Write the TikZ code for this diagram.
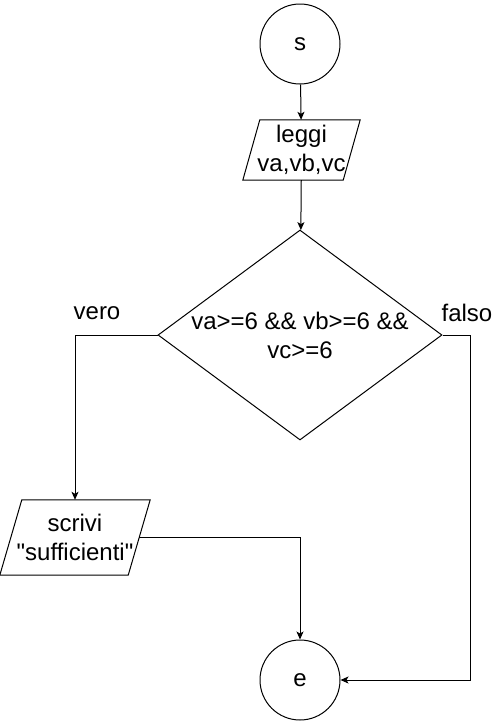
\documentclass[tikz,border=0pt]{standalone}
\usepackage{fontspec}
\setmainfont{Liberation Sans}
\usetikzlibrary{arrows.meta, positioning, shapes.geometric}
\tikzset{
  term/.style={draw, circle, minimum size=80pt, inner sep=0pt, line width=1pt},
  iobox/.style={rectangle, inner sep=0pt, align=center},
  ioline/.style={line width=1pt, line join=miter},
  decbox/.style={draw, diamond, minimum width=284pt, minimum height=210pt,
                 inner sep=0pt, line width=1pt},
  lbl/.style={inner sep=0pt},
  arr/.style={-{Stealth[length=8pt, width=7pt, inset=2pt]}, line width=1pt},
}

\begin{document}
\begin{tikzpicture}[x=1pt, y=-1pt, font=\fontsize{24}{29}\selectfont]
  \useasboundingbox (0,0) rectangle (501,721);

  %% -- nodes --
  \node[term] (s) at (300,44) {s};
  \node[iobox, minimum width=100pt, minimum height=60pt] (leggi) at (301.5,150) {leggi\\va,vb,vc};
  \draw[ioline] ([xshift=8.5pt]leggi.north west) -- ([xshift=8.5pt]leggi.north east)
    -- ([xshift=-8.5pt]leggi.south east) -- ([xshift=-8.5pt]leggi.south west) -- cycle;
  \node[decbox] (cond) at (300,335) {};
  \node[align=center, inner sep=0pt] (condtxt) at (cond) {va>=6 \&\& vb>=6 \&\&\\vc>=6};
  \node[iobox, minimum width=128pt, minimum height=75pt] (scrivi) at (75,537.5)
    {scrivi\\\textquotedbl sufficienti\textquotedbl};
  \draw[ioline] ([xshift=11pt]scrivi.north west) -- ([xshift=11pt]scrivi.north east)
    -- ([xshift=-11pt]scrivi.south east) -- ([xshift=-11pt]scrivi.south west) -- cycle;
  \node[term] (e) at (300,680) {e};
  \node[lbl] (vero) at (97,313) {vero};
  \node[lbl] (falso) at (467,313) {falso};
  \coordinate (rturn) at (470,335);

  %% -- connectors --
  \draw[arr] (s) -- (leggi);
  \draw[arr] (leggi) -- (cond);
  \draw[arr] (cond.west) -| (scrivi.north);
  \draw[arr] (scrivi.east) -| (e.north);
  \draw[arr] (cond.east) -- (rturn) |- (e.east);
\end{tikzpicture}
\end{document}
